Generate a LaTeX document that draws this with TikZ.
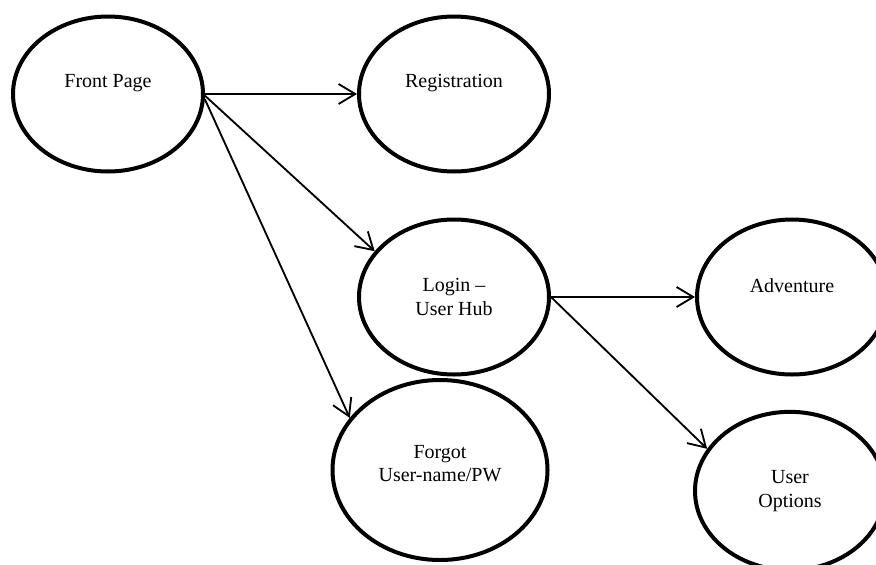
\documentclass[tikz,border=0pt]{standalone}
\usepackage{fontspec}
\setmainfont{Liberation Serif}
\usetikzlibrary{arrows.meta,shapes.geometric}

\begin{document}
\begin{tikzpicture}[x=0.6pt,y=-0.6pt,
	page/.style={draw=black,ellipse,line width=2.4pt,inner sep=0pt,minimum width=114pt,minimum height=93pt},
	lbl/.style={align=center,font=\fontsize{12pt}{14pt}\selectfont},
	arr/.style={-{Straight Barb[length=10pt,width=12pt]},line width=1.1pt}]
	\useasboundingbox (0,0) rectangle (876,564);
	
	% top row
	\node[page] (front) at (108,94){};
	\node[lbl] (fronttxt) at ([yshift=6.6pt]front.center){Front Page};
	
	\node[page] (reg) at (454,94){};
	\node[lbl] (regtxt) at ([yshift=6.6pt]reg.center){Registration};
	
	%middle row
	\node[page] (login) at (454,297){};
	\node[lbl] (logintxt) at (login.center){Login --\\User Hub};
	
	\node[page] (adv) at (792,297){};
	\node[lbl] (advtxt) at ([yshift=7pt]adv.center){Adventure};
	
	%bottom row
	\node[page,minimum width=129pt,minimum height=108pt] (forgot) at (440,470){};
	\node[lbl] (forgottxt) at ([yshift=4pt]forgot.center){Forgot\\User-name/PW};
	
	\node[page,minimum height=95pt] (uopt) at (790,491){};
	\node[lbl] (uopttxt) at (uopt.center){User\\Options};
	
	\draw[arr] (front.east) -- (reg.west);
	\draw[arr] (front.-1) -- (login.150);
	\draw[arr] (front.-3) -- (forgot.150);
	
	\draw[arr] (login.east) -- (adv.west);
	\draw[arr] (login.east) -- (uopt.153);
	
\end{tikzpicture}
\end{document}
